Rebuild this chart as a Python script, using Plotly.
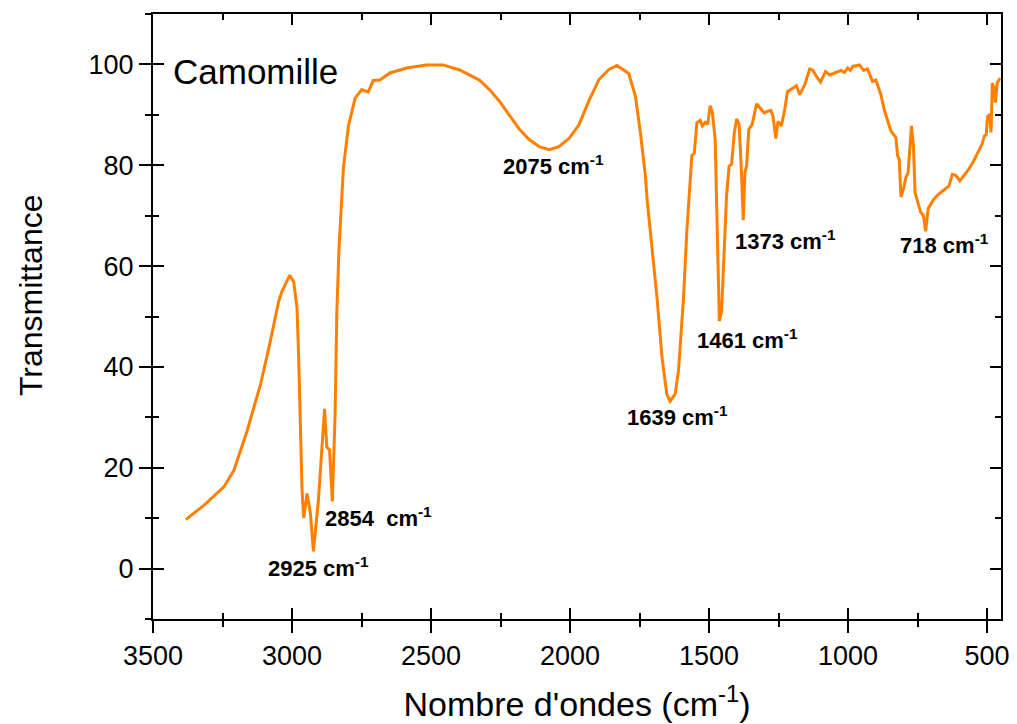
import plotly.graph_objects as go

# Wavenumber (cm-1) and transmittance
wavenumber = [
    3382, 3316, 3245, 3209, 3161, 3113, 3078, 3048, 3036, 3008, 2994, 2982, 2976, 2970, 2964,
    2958, 2946, 2934, 2923, 2905, 2883, 2875, 2865, 2855, 2845, 2839, 2831,
    2815, 2797, 2773, 2749, 2726, 2708, 2684, 2648, 2588, 2517, 2457, 2397, 2326, 2290, 2254,
    2218, 2183, 2147, 2111, 2075, 2040, 2004, 1968, 1932, 1896, 1860, 1831, 1789, 1765, 1747, 1729,
    1723, 1705, 1687, 1669, 1652, 1640, 1622, 1610, 1592, 1580,
    1568, 1562, 1553, 1544, 1532, 1524, 1514, 1505, 1496, 1488, 1478, 1473, 1467, 1463,
    1455, 1446, 1437, 1428, 1419, 1409, 1401, 1392, 1385, 1377, 1371, 1365, 1357, 1345,
    1329, 1317, 1302, 1290, 1278, 1270, 1260, 1252, 1240, 1228, 1218, 1198, 1186, 1174,
    1156, 1138, 1126, 1115, 1099, 1081, 1067, 1049, 1025, 1013, 1001, 992, 983, 959,
    944, 930, 912, 900, 882, 870, 858, 846, 828, 822, 816, 810, 801, 792, 784, 777,
    772, 765, 759, 751, 739, 729, 721, 712, 691, 673, 649, 637, 625, 613, 598, 583,
    566, 548, 530, 518, 510, 503, 498, 490, 486, 481, 474, 470, 464, 453,
]
transmittance = [
    9.7, 12.6, 16.2, 19.5, 27.4, 36.6, 45.1, 53.0, 55.0, 58.2, 56.9, 51.7, 41.8, 28.7, 15.6,
    10.0, 14.9, 11.0, 3.4, 13.6, 31.7, 24.1, 23.5, 13.3, 30.7, 50.4, 63.5,
    79.6, 87.8, 93.3, 95.0, 94.5, 96.8, 96.9, 98.3, 99.3, 99.9, 99.9, 98.9, 96.9, 95.0, 92.7,
    90.0, 87.2, 85.1, 83.7, 83.1, 83.7, 85.3, 88.0, 92.8, 97.0, 99.0, 99.8, 98.2, 93.7, 86.5, 77.9,
    73.3, 63.5, 53.6, 41.8, 34.6, 33.2, 34.6, 39.2, 53.6, 66.8,
    77.3, 81.9, 82.4, 88.4, 88.9, 87.8, 88.5, 88.1, 91.8, 90.4, 85.1, 74.0, 57.6, 49.1,
    51.0, 64.1, 74.0, 79.8, 80.2, 86.5, 89.2, 88.1, 80.6, 69.1, 78.6, 79.9, 87.1, 88.1,
    92.2, 91.4, 90.4, 90.7, 90.9, 89.7, 85.3, 88.7, 87.8, 91.0, 94.6, 95.3, 95.8, 94.0,
    96.0, 99.1, 98.8, 97.7, 96.5, 98.6, 97.9, 98.3, 98.8, 98.4, 99.3, 98.8, 99.6, 99.9,
    98.8, 99.1, 96.6, 96.9, 94.0, 91.0, 89.1, 86.8, 85.5, 81.9, 81.2, 73.7, 75.3, 77.6, 78.6, 84.5,
    87.8, 83.8, 74.6, 73.0, 70.7, 70.0, 66.9, 71.4, 73.3, 74.3, 75.3, 75.9, 78.2, 78.0, 76.9, 77.9,
    79.2, 80.9, 82.8, 84.2, 85.8, 86.1, 89.7, 90.1, 86.5, 96.3, 95.0, 92.4, 96.3, 97.3,
]

# Peak labels
peak_labels = ["2925 cm", "2854  cm", "2075 cm", "1639 cm", "1461 cm", "1373 cm", "718 cm"]
peak_label_x = [3095, 2888, 2247, 1802, 1549, 1413, 822]
peak_label_y = [0.4, 10.3, 80.0, 30.2, 45.6, 65.2, 64.3]

sample_name = "Camomille"
x_title = "Nombre d'ondes (cm<sup>-1</sup>)"
y_title = "Transmittance"

FONT = "Liberation Sans, Arial, Helvetica, sans-serif"

fig = go.Figure()
fig.add_trace(go.Scatter(
    x=wavenumber, y=transmittance, mode="lines",
    line=dict(color="#FF8000", width=3),
    showlegend=False, hoverinfo="skip",
))
# dummy trace for overlay axes (inside ticks)
fig.add_trace(go.Scatter(x=[None], y=[None], xaxis="x2", yaxis="y2",
                         showlegend=False, hoverinfo="skip"))

for txt, xv, yv in zip(peak_labels, peak_label_x, peak_label_y):
    fig.add_annotation(
        x=xv, y=yv, xref="x", yref="y", xanchor="left", yanchor="middle",
        text="<b>" + txt + "<sup>-1</sup></b>", showarrow=False,
        font=dict(family=FONT, size=22, color="black"),
    )

fig.add_annotation(
    x=3436, y=98.5, xref="x", yref="y", xanchor="left", yanchor="middle",
    text=sample_name, showarrow=False,
    font=dict(family=FONT, size=35, color="black"),
)

# y-axis title (placed slightly above centre like the reference)
fig.add_annotation(
    x=-0.143, y=0.535, xref="paper", yref="paper", xanchor="center", yanchor="middle",
    text=y_title, textangle=-90, showarrow=False,
    font=dict(family=FONT, size=32, color="black"),
)

xr = [3500, 450]
yr = [-10, 110]
common_x = dict(range=xr, tick0=500, dtick=500, showgrid=False, zeroline=False,
                showline=True, linewidth=2, linecolor="black", tickwidth=2, tickcolor="black")
common_y = dict(range=yr, tick0=0, dtick=20, showgrid=False, zeroline=False,
                showline=True, linewidth=2, linecolor="black", tickwidth=2, tickcolor="black")

fig.update_layout(
    width=1017, height=724,
    paper_bgcolor="white", plot_bgcolor="white",
    margin=dict(l=153, r=7, t=14, b=97),
    font=dict(family=FONT, color="black"),
    xaxis=dict(
        **common_x, ticks="outside", ticklen=12, mirror=True,
        minor=dict(dtick=250, ticks="outside", ticklen=6, tickwidth=2, tickcolor="black"),
        tickfont=dict(size=27, family=FONT),
        title=dict(text=x_title, font=dict(size=34, family=FONT), standoff=22),
    ),
    yaxis=dict(
        **common_y, ticks="outside", ticklen=12, mirror=True,
        minor=dict(dtick=10, ticks="outside", ticklen=6, tickwidth=2, tickcolor="black"),
        tickfont=dict(size=27, family=FONT),
    ),
    xaxis2=dict(
        **common_x, overlaying="x", anchor="y2", side="bottom",
        ticks="inside", ticklen=11, mirror="ticks", showticklabels=False,
        minor=dict(dtick=250, ticks="inside", ticklen=6, tickwidth=2, tickcolor="black"),
    ),
    yaxis2=dict(
        **common_y, overlaying="y", anchor="x2", side="left",
        ticks="inside", ticklen=11, mirror="ticks", showticklabels=False,
        minor=dict(dtick=10, ticks="inside", ticklen=6, tickwidth=2, tickcolor="black"),
    ),
)

fig.write_html(
    "out.html",
    config={"displayModeBar": False},
    post_script="document.documentElement.style.overflow='hidden';document.body.style.margin='0';document.body.style.overflow='hidden';",
)
